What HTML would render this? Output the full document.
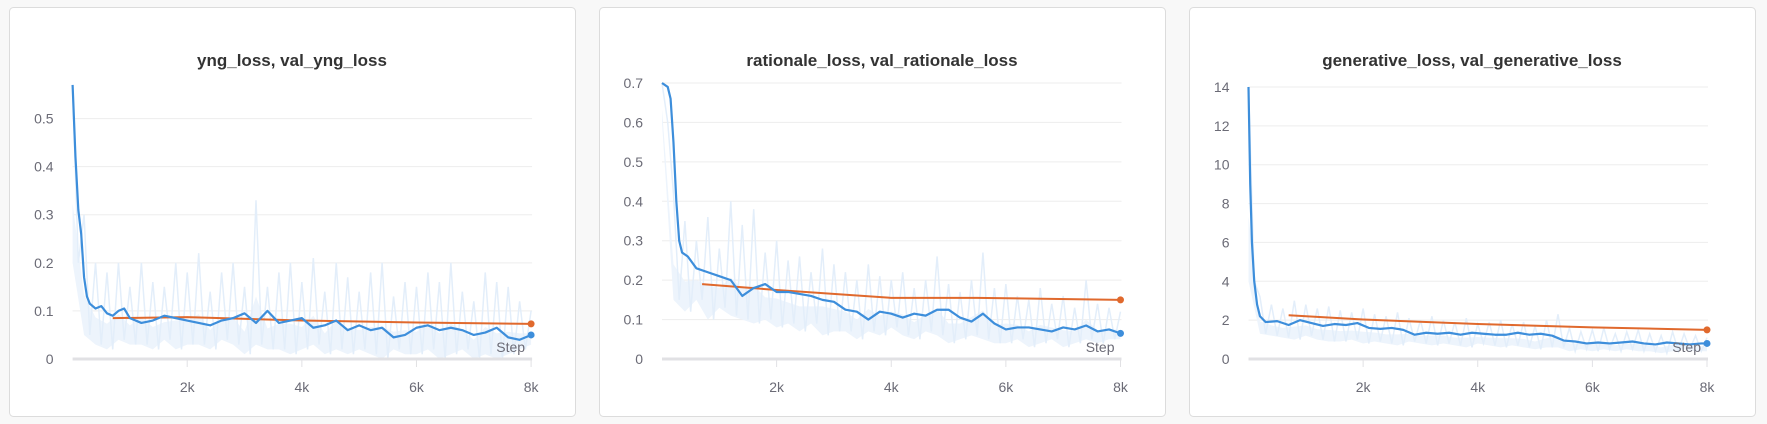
<!DOCTYPE html>
<html><head><meta charset="utf-8"><style>
html,body{margin:0;padding:0;background:#f8f8f8;}
svg{display:block;font-family:"Liberation Sans",sans-serif;}
</style></head><body>
<svg id="s" width="1767" height="424" viewBox="0 0 1767 424" xmlns="http://www.w3.org/2000/svg"></svg>
<script>
const titles = ["yng_loss, val_yng_loss", "rationale_loss, val_rationale_loss", "generative_loss, val_generative_loss"];
const xTickLabels = ["2k", "4k", "6k", "8k"];
const xTickValues = [2000, 4000, 6000, 8000];
const yTicks1 = [0, 0.1, 0.2, 0.3, 0.4, 0.5];
const yTicks2 = [0, 0.1, 0.2, 0.3, 0.4, 0.5, 0.6, 0.7];
const yTicks3 = [0, 2, 4, 6, 8, 10, 12, 14];

const steps1 = [0,50,100,150,200,250,300,400,500,600,700,800,900,1000,1200,1400,1600,1800,2000,2200,2400,2600,2800,3000,3200,3400,3600,3800,4000,4200,4400,4600,4800,5000,5200,5400,5600,5800,6000,6200,6400,6600,6800,7000,7200,7400,7600,7800,8000];
const train1 = [0.57,0.42,0.31,0.26,0.17,0.13,0.115,0.105,0.11,0.095,0.09,0.1,0.105,0.085,0.075,0.08,0.09,0.085,0.08,0.075,0.07,0.08,0.085,0.095,0.075,0.1,0.075,0.08,0.085,0.065,0.07,0.08,0.06,0.07,0.06,0.065,0.045,0.05,0.065,0.07,0.06,0.065,0.06,0.05,0.055,0.065,0.045,0.04,0.05];
const valSteps1 = [700,2000,4000,6000,8000];
const val1 = [0.085,0.087,0.08,0.076,0.073];
const rawHi1 = [0.57,0.3,0.2,0.18,0.2,0.15,0.2,0.16,0.15,0.2,0.18,0.22,0.14,0.18,0.2,0.15,0.33,0.15,0.18,0.2,0.16,0.21,0.14,0.2,0.17,0.14,0.18,0.2,0.13,0.16,0.15,0.18,0.16,0.2,0.14,0.12,0.18,0.16,0.15,0.12,0.1];
const rawLo1 = [0.2,0.05,0.03,0.02,0.04,0.03,0.03,0.02,0.04,0.02,0.03,0.03,0.02,0.04,0.03,0.01,0.03,0.02,0.02,0.01,0.02,0.03,0.01,0.02,0.01,0.02,0.01,0.0,0.02,0.01,0.01,0.02,0.0,0.01,0.02,0.0,0.01,0.0,0.01,0.02,0.03];

const steps2 = [0,100,150,200,250,300,350,450,600,800,1000,1200,1400,1600,1800,2000,2200,2400,2600,2800,3000,3200,3400,3600,3800,4000,4200,4400,4600,4800,5000,5200,5400,5600,5800,6000,6200,6400,6600,6800,7000,7200,7400,7600,7800,8000];
const train2 = [0.70,0.69,0.66,0.55,0.40,0.30,0.27,0.26,0.23,0.22,0.21,0.2,0.16,0.18,0.19,0.17,0.17,0.165,0.16,0.15,0.145,0.125,0.12,0.1,0.12,0.115,0.105,0.115,0.11,0.125,0.125,0.105,0.095,0.115,0.09,0.075,0.08,0.08,0.075,0.07,0.08,0.075,0.085,0.07,0.075,0.065];
const valSteps2 = [700,2000,4000,5500,8000];
const val2 = [0.19,0.175,0.155,0.155,0.15];
const rawHi2 = [0.7,0.42,0.35,0.3,0.36,0.28,0.4,0.34,0.38,0.27,0.3,0.25,0.26,0.22,0.28,0.24,0.22,0.2,0.24,0.21,0.2,0.22,0.18,0.2,0.26,0.19,0.17,0.2,0.27,0.18,0.19,0.16,0.15,0.18,0.14,0.16,0.13,0.2,0.14,0.13,0.12];
const rawLo2 = [0.6,0.15,0.12,0.15,0.1,0.13,0.11,0.1,0.09,0.1,0.08,0.09,0.07,0.09,0.06,0.07,0.07,0.05,0.07,0.06,0.08,0.06,0.05,0.07,0.06,0.04,0.05,0.06,0.05,0.04,0.04,0.05,0.03,0.04,0.05,0.03,0.04,0.05,0.04,0.05,0.05];

const steps3 = [0,30,60,100,150,200,300,500,700,900,1100,1300,1500,1700,1900,2100,2300,2500,2700,2900,3100,3300,3500,3700,3900,4100,4300,4500,4700,4900,5100,5300,5500,5700,5900,6100,6300,6500,6700,6900,7100,7300,7500,7700,7900,8000];
const train3 = [14,9,6,4,2.8,2.2,1.9,1.95,1.75,2.0,1.85,1.7,1.8,1.75,1.85,1.6,1.55,1.6,1.5,1.25,1.35,1.3,1.35,1.25,1.35,1.3,1.25,1.25,1.35,1.25,1.3,1.2,0.95,0.9,0.8,0.85,0.8,0.85,0.9,0.8,0.75,0.85,0.8,0.75,0.8,0.8];
const valSteps3 = [700,2000,4000,6000,8000];
const val3 = [2.25,2.03,1.8,1.63,1.5];
const rawHi3 = [14,3.2,2.8,2.6,3.0,2.8,2.6,2.7,2.5,2.4,2.6,2.3,2.2,2.4,2.1,2.0,2.2,2.0,1.9,2.1,1.8,1.9,2.0,1.8,1.9,1.7,2.0,2.3,1.6,1.4,1.5,1.6,1.3,1.4,1.5,1.3,1.2,1.4,1.3,1.2,1.1];
const rawLo3 = [4,1.3,1.2,1.1,1.0,1.2,1.0,0.9,0.9,1.0,0.8,0.9,0.8,0.7,0.9,0.8,0.7,0.8,0.7,0.6,0.8,0.7,0.6,0.7,0.6,0.5,0.6,0.6,0.4,0.5,0.4,0.5,0.4,0.5,0.4,0.4,0.3,0.4,0.5,0.4,0.4];

const NS = "http://www.w3.org/2000/svg";
const svg = document.getElementById("s");
function mk(tag, attrs, parent) {
  const e = document.createElementNS(NS, tag);
  for (const k in attrs) e.setAttribute(k, attrs[k]);
  (parent || svg).appendChild(e);
  return e;
}

const panels = [
  {px:9, pw:566, x0:72.6, yMax:0.574, yTop:83, ticks:yTicks1, fmt:v=>v===0?"0":v.toFixed(1), steps:steps1, train:train1, vs:valSteps1, val:val1, hi:rawHi1, lo:rawLo1, key:"yng"},
  {px:599, pw:566, x0:662, yMax:0.7, yTop:83, ticks:yTicks2, fmt:v=>v===0?"0":v.toFixed(1), steps:steps2, train:train2, vs:valSteps2, val:val2, hi:rawHi2, lo:rawLo2, key:"rationale"},
  {px:1189, pw:566, x0:1248.5, yMax:14, yTop:87, ticks:yTicks3, fmt:v=>String(v), steps:steps3, train:train3, vs:valSteps3, val:val3, hi:rawHi3, lo:rawLo3, key:"generative"}
];
const Y0 = 359, XW = 458.5, XMAX = 8000;

panels.forEach((p, i) => {
  const g = mk("g", {});
  
  
  const card = mk("rect", {x:p.px+0.5, y:7.5, width:p.pw, height:409, rx:4, fill:"#fff", stroke:"#dcdcdc"}, g);
  
  
  const xs = s => p.x0 + s / XMAX * XW;
  const ys = v => Y0 - v / p.yMax * (Y0 - p.yTop);
  const t = mk("text", {x:p.px + p.pw/2, y:66, "text-anchor":"middle", "font-size":"17", "font-weight":"bold", fill:"#333"}, g);
  t.textContent = titles[i];
  
  
  p.ticks.forEach(v => {
    if (v > 0) {
      const gl = mk("line", {x1:p.x0, x2:p.x0+XW+1, y1:ys(v), y2:ys(v), stroke:"#ededed", "stroke-width":1}, g);
      
      
    }
    const lb = mk("text", {x:p.x0 - 19, y:ys(v)+5, "text-anchor":"end", "font-size":"14", fill:"#6b6b76"}, g);
    lb.textContent = p.fmt(v);
    
    
  });
  // raw band area
  const up = p.hi.map((h, k) => xs(k*200) + "," + ys((h + 2*p.lo[k]) / 3));
  const dn = p.lo.map((l, k) => xs(k*200) + "," + ys(l)).reverse();
  const area = mk("polygon", {points:up.concat(dn).join(" "), fill:"#edf4fc", stroke:"none"}, g);
  
  
  let pts = [];
  p.hi.forEach((h, k) => {
    const s = k * 200;
    pts.push(xs(s) + "," + ys(h));
    if (s + 100 < XMAX) pts.push(xs(s + 100) + "," + ys(p.lo[k]));
  });
  const raw = mk("polyline", {points:pts.join(" "), fill:"none", stroke:"#e3eefa", "stroke-width":1.5}, g);
  
  
  const ax = mk("line", {x1:p.x0, x2:p.x0+XW+1, y1:Y0, y2:Y0, stroke:"#e1e1e4", "stroke-width":3}, g);
  
  
  xTickValues.forEach((v, k) => {
    const tk = mk("line", {x1:xs(v), x2:xs(v), y1:Y0, y2:Y0+8, stroke:"#e1e1e4", "stroke-width":1}, g);
    
    
    const tl = mk("text", {x:xs(v), y:392, "text-anchor":"middle", "font-size":"14", fill:"#6b6b76"}, g);
    tl.textContent = xTickLabels[k];
    
    
  });
  const vp = p.vs.map((s, k) => xs(s) + "," + ys(p.val[k])).join(" ");
  const vl = mk("polyline", {points:vp, fill:"none", stroke:"#e0692d", "stroke-width":2}, g);
  
  
  const vd = mk("circle", {cx:xs(p.vs[p.vs.length-1]), cy:ys(p.val[p.val.length-1]), r:3.5, fill:"#e0692d"}, g);
  
  
  const tp = p.steps.map((s, k) => xs(s) + "," + ys(p.train[k])).join(" ");
  const tl2 = mk("polyline", {points:tp, fill:"none", stroke:"#3d8edb", "stroke-width":2.2, "stroke-linejoin":"round"}, g);
  
  
  const td = mk("circle", {cx:xs(p.steps[p.steps.length-1]), cy:ys(p.train[p.train.length-1]), r:3.5, fill:"#3d8edb"}, g);
  
  
  const st = mk("text", {x:p.x0 + XW - 6, y:352, "text-anchor":"end", "font-size":"14", fill:"#6b6b76"}, g);
  st.textContent = "Step";
  
  
});
</script>
</body></html>
